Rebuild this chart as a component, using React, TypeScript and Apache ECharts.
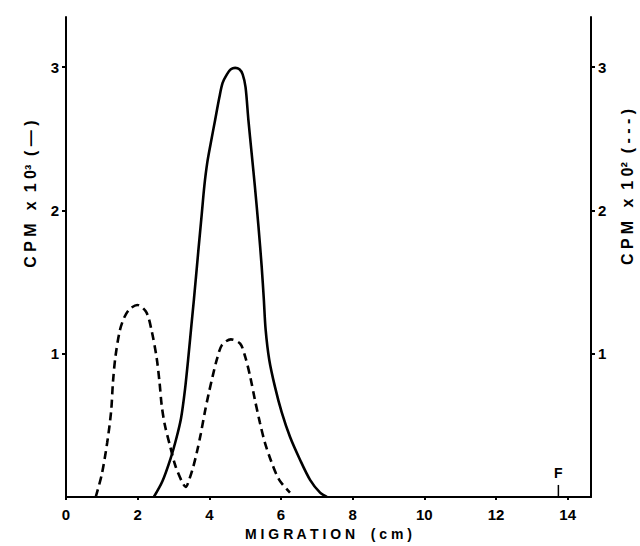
import React, { useEffect, useRef } from "react";
import * as echarts from "echarts";

// Migration (cm) vs CPM x 10^3 (solid curve, left axis)
const solidCurve: [number, number][] = [
  [2.45, 0], [2.69, 0.11], [2.92, 0.27], [3.08, 0.41], [3.21, 0.55], [3.32, 0.75],
  [3.42, 0.99], [3.5, 1.2], [3.57, 1.38], [3.69, 1.71], [3.79, 1.98], [3.86, 2.17],
  [3.94, 2.33], [4.04, 2.47], [4.16, 2.63], [4.28, 2.79], [4.37, 2.89], [4.49, 2.95],
  [4.6, 2.985], [4.72, 2.995], [4.84, 2.985], [4.93, 2.95], [5.01, 2.86], [5.09, 2.63],
  [5.18, 2.4], [5.27, 2.17], [5.37, 1.89], [5.46, 1.61], [5.52, 1.38], [5.57, 1.17],
  [5.67, 0.96], [5.83, 0.77], [6.02, 0.59], [6.25, 0.42], [6.53, 0.26], [6.81, 0.12],
  [7.09, 0.03], [7.28, 0],
];

// Migration (cm) vs CPM x 10^2 (dashed curve, right axis)
const dashedCurve: [number, number][] = [
  [0.83, 0], [1.0, 0.16], [1.15, 0.38], [1.26, 0.6], [1.31, 0.8], [1.38, 0.98],
  [1.5, 1.16], [1.62, 1.25], [1.77, 1.31], [1.99, 1.34], [2.24, 1.29], [2.39, 1.16],
  [2.53, 0.97], [2.61, 0.8], [2.67, 0.64], [2.76, 0.5], [2.9, 0.36], [3.05, 0.22],
  [3.23, 0.11], [3.34, 0.07], [3.45, 0.13], [3.55, 0.21], [3.65, 0.31], [3.76, 0.44],
  [3.88, 0.6], [3.98, 0.72], [4.09, 0.84], [4.21, 0.96], [4.35, 1.06], [4.6, 1.1],
  [4.86, 1.07], [5.0, 0.98], [5.14, 0.84], [5.27, 0.68], [5.41, 0.52], [5.55, 0.38],
  [5.74, 0.24], [5.95, 0.12], [6.25, 0.03],
];

// Solvent front marker "F"
const frontX = 13.74;
const frontMarkHeight = 0.083;
const frontLabel = "F";

const xTicks = [0, 2, 4, 6, 8, 10, 12, 14];
const yTicks = [1, 2, 3];
const xMax = 14.65;
const yMax = 3.35;

const xTitle = "M I G R A T I O N    ( c m )";
const leftTitle = "C P M   x  1 0³  ( — )";
const rightTitle = "C P M   x  1 0²  ( - - - )";

const FONT = "'Liberation Sans', Arial, sans-serif";

export default function App() {
  const ref = useRef<HTMLDivElement>(null);

  useEffect(() => {
    if (!ref.current) return;
    const chart = echarts.init(ref.current, undefined, { renderer: "svg" });
    const labelStyle = {
      color: "#000",
      fontFamily: FONT,
      fontSize: 15,
      fontWeight: "bold" as const,
    };
    const yAxisBase = (pos: "left" | "right") => ({
      type: "value" as const,
      position: pos,
      min: 0,
      max: yMax,
      axisLine: { show: true, onZero: false, lineStyle: { color: "#000", width: 2 } },
      axisTick: { show: true, length: 4, customValues: yTicks, lineStyle: { color: "#000", width: 2 } },
      axisLabel: { ...labelStyle, margin: 7, customValues: yTicks },
      splitLine: { show: false },
    });
    chart.setOption({
      animation: false,
      backgroundColor: "#fff",
      grid: { left: 66, right: 49, top: 17, bottom: 45, containLabel: false },
      xAxis: {
        type: "value",
        min: 0,
        max: xMax,
        name: xTitle,
        nameLocation: "middle",
        nameGap: 30,
        nameTextStyle: { color: "#000", fontFamily: FONT, fontSize: 14, fontWeight: "bold" },
        axisLine: { show: true, onZero: false, lineStyle: { color: "#000", width: 2 } },
        axisTick: { show: true, length: 3, customValues: xTicks, lineStyle: { color: "#000", width: 2 } },
        axisLabel: { ...labelStyle, margin: 10, customValues: xTicks },
        splitLine: { show: false },
      },
      yAxis: [yAxisBase("left"), yAxisBase("right")],
      graphic: [
        {
          type: "text",
          x: 30,
          y: 194,
          rotation: Math.PI / 2,
          style: {
            text: leftTitle,
            fill: "#000",
            font: `bold 16px ${FONT}`,
            align: "center",
            verticalAlign: "middle",
          },
        },
        {
          type: "text",
          x: 627,
          y: 187,
          rotation: Math.PI / 2,
          style: {
            text: rightTitle,
            fill: "#000",
            font: `bold 16px ${FONT}`,
            align: "center",
            verticalAlign: "middle",
          },
        },
      ],
      series: [
        {
          type: "line",
          name: "CPM x 10^3",
          yAxisIndex: 0,
          data: solidCurve,
          smooth: 0.3,
          showSymbol: false,
          symbol: "none",
          lineStyle: { color: "#000", width: 2.6 },
        },
        {
          type: "line",
          name: "CPM x 10^2",
          yAxisIndex: 1,
          data: dashedCurve,
          smooth: 0.3,
          showSymbol: false,
          symbol: "none",
          lineStyle: { color: "#000", width: 2.6, type: [8, 5] },
        },
        {
          type: "line",
          name: "front",
          yAxisIndex: 0,
          data: [
            [frontX, 0],
            {
              value: [frontX, frontMarkHeight],
              label: {
                show: true,
                position: "top",
                distance: 5,
                formatter: frontLabel,
                color: "#000",
                fontFamily: FONT,
                fontSize: 14,
                fontWeight: "bold",
              },
            },
          ],
          symbol: "circle",
          symbolSize: 0.5,
          showSymbol: true,
          itemStyle: { color: "#000" },
          lineStyle: { color: "#000", width: 1.5 },
        },
      ],
    });
    return () => chart.dispose();
  }, []);

  return (
    <div
      ref={ref}
      style={{ position: "fixed", left: 0, top: 0, width: 640, height: 546, background: "#fff" }}
    />
  );
}
